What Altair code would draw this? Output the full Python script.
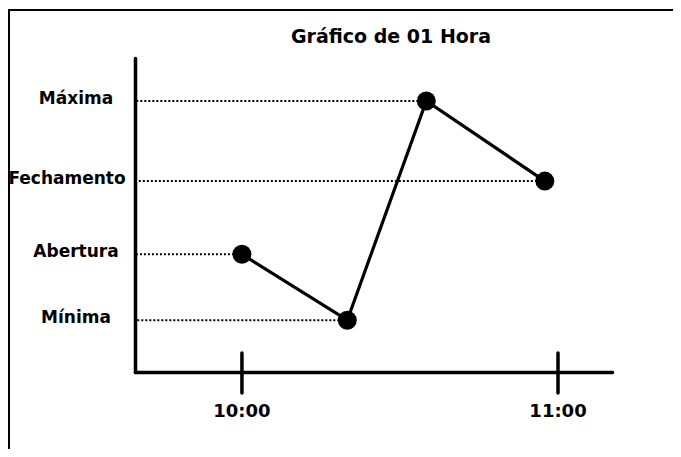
import altair as alt
import pandas as pd

# --- data ---
titulo = "Gráfico de 01 Hora"
rotulos = ["Abertura", "Mínima", "Máxima", "Fechamento"]
minutos = [0, 20, 35, 57.5]            # minutes after 10:00
precos = [137.5, 116.5, 186.3, 160.8]  # price levels (arbitrary units)
tick_minutos = [0, 60]
tick_rotulos = ["10:00", "11:00"]

df = pd.DataFrame({"rotulo": rotulos, "minuto": minutos, "preco": precos})
df_ticks = pd.DataFrame({"minuto": tick_minutos, "rotulo": tick_rotulos})
df_one = pd.DataFrame({"t": [titulo]})

W, H = 477, 314
FONT = "DejaVu Sans"

xs = alt.Scale(domain=[-20.3, 70.25], nice=False, zero=False)
ys = alt.Scale(domain=[100, 200], nice=False, zero=False)
axis_style = dict(domain=True, ticks=False, labels=False, grid=False, title=None,
                  domainWidth=3.5, domainColor="black", domainCap="round")

base = alt.Chart(df)

# axes (domain lines only)
axes = base.mark_point(opacity=0).encode(
    x=alt.X("minuto:Q", scale=xs, axis=alt.Axis(**axis_style)),
    y=alt.Y("preco:Q", scale=ys, axis=alt.Axis(**axis_style)),
)

dotted = base.mark_rule(color="black", strokeWidth=2, strokeDash=[2, 2]).encode(
    x=alt.X("minuto:Q", scale=xs),
    x2=alt.value(2),
    y=alt.Y("preco:Q", scale=ys),
)

line = base.mark_line(color="black", strokeWidth=3.2).encode(
    x=alt.X("minuto:Q", scale=xs),
    y=alt.Y("preco:Q", scale=ys),
    order="minuto:Q",
)

points = base.mark_circle(color="black", opacity=1, size=360).encode(
    x=alt.X("minuto:Q", scale=xs),
    y=alt.Y("preco:Q", scale=ys),
)

label_style = dict(font=FONT, fontWeight="bold", fontSize=17, color="black",
                   align="center", baseline="middle", dy=-2)
labels = base.mark_text(**label_style).encode(
    x=alt.value(-59),
    y=alt.Y("preco:Q", scale=ys),
    text="rotulo:N",
).transform_filter(alt.datum.rotulo != "Fechamento")
label_fech = base.mark_text(**label_style).encode(
    x=alt.value(-68),
    y=alt.Y("preco:Q", scale=ys),
    text="rotulo:N",
).transform_filter(alt.datum.rotulo == "Fechamento")

ticks = alt.Chart(df_ticks).mark_rule(color="black", strokeWidth=3.5, strokeCap="round").encode(
    x=alt.X("minuto:Q", scale=xs),
    y=alt.value(295),
    y2=alt.value(335),
)

tick_labels = alt.Chart(df_ticks).mark_text(font=FONT, fontWeight="bold", fontSize=18,
                                             color="black", align="center",
                                             baseline="middle").encode(
    x=alt.X("minuto:Q", scale=xs),
    y=alt.value(354),
    text="rotulo:N",
)

title = alt.Chart(df_one).mark_text(font=FONT, fontWeight="bold", fontSize=19,
                                    color="black", align="center",
                                    baseline="middle").encode(
    x=alt.value(256), y=alt.value(-21), text="t:N"
)

border_top = alt.Chart(df_one).mark_rule(color="black", strokeWidth=2).encode(
    x=alt.value(-127), x2=alt.value(560), y=alt.value(-48)
)
border_left = alt.Chart(df_one).mark_rule(color="black", strokeWidth=2).encode(
    x=alt.value(-126), y=alt.value(-49), y2=alt.value(420)
)

chart = alt.layer(
    axes, dotted, line, points, labels, label_fech, ticks, tick_labels, title,
    border_top, border_left
).properties(
    width=W, height=H,
    autosize=alt.AutoSizeParams(type="none"),
    padding={"left": 127, "top": 50, "right": 61, "bottom": 77},
).configure(background="white").configure_view(stroke=None, strokeWidth=0)

chart.save("out.html", embed_options={"renderer": "svg", "actions": False})
